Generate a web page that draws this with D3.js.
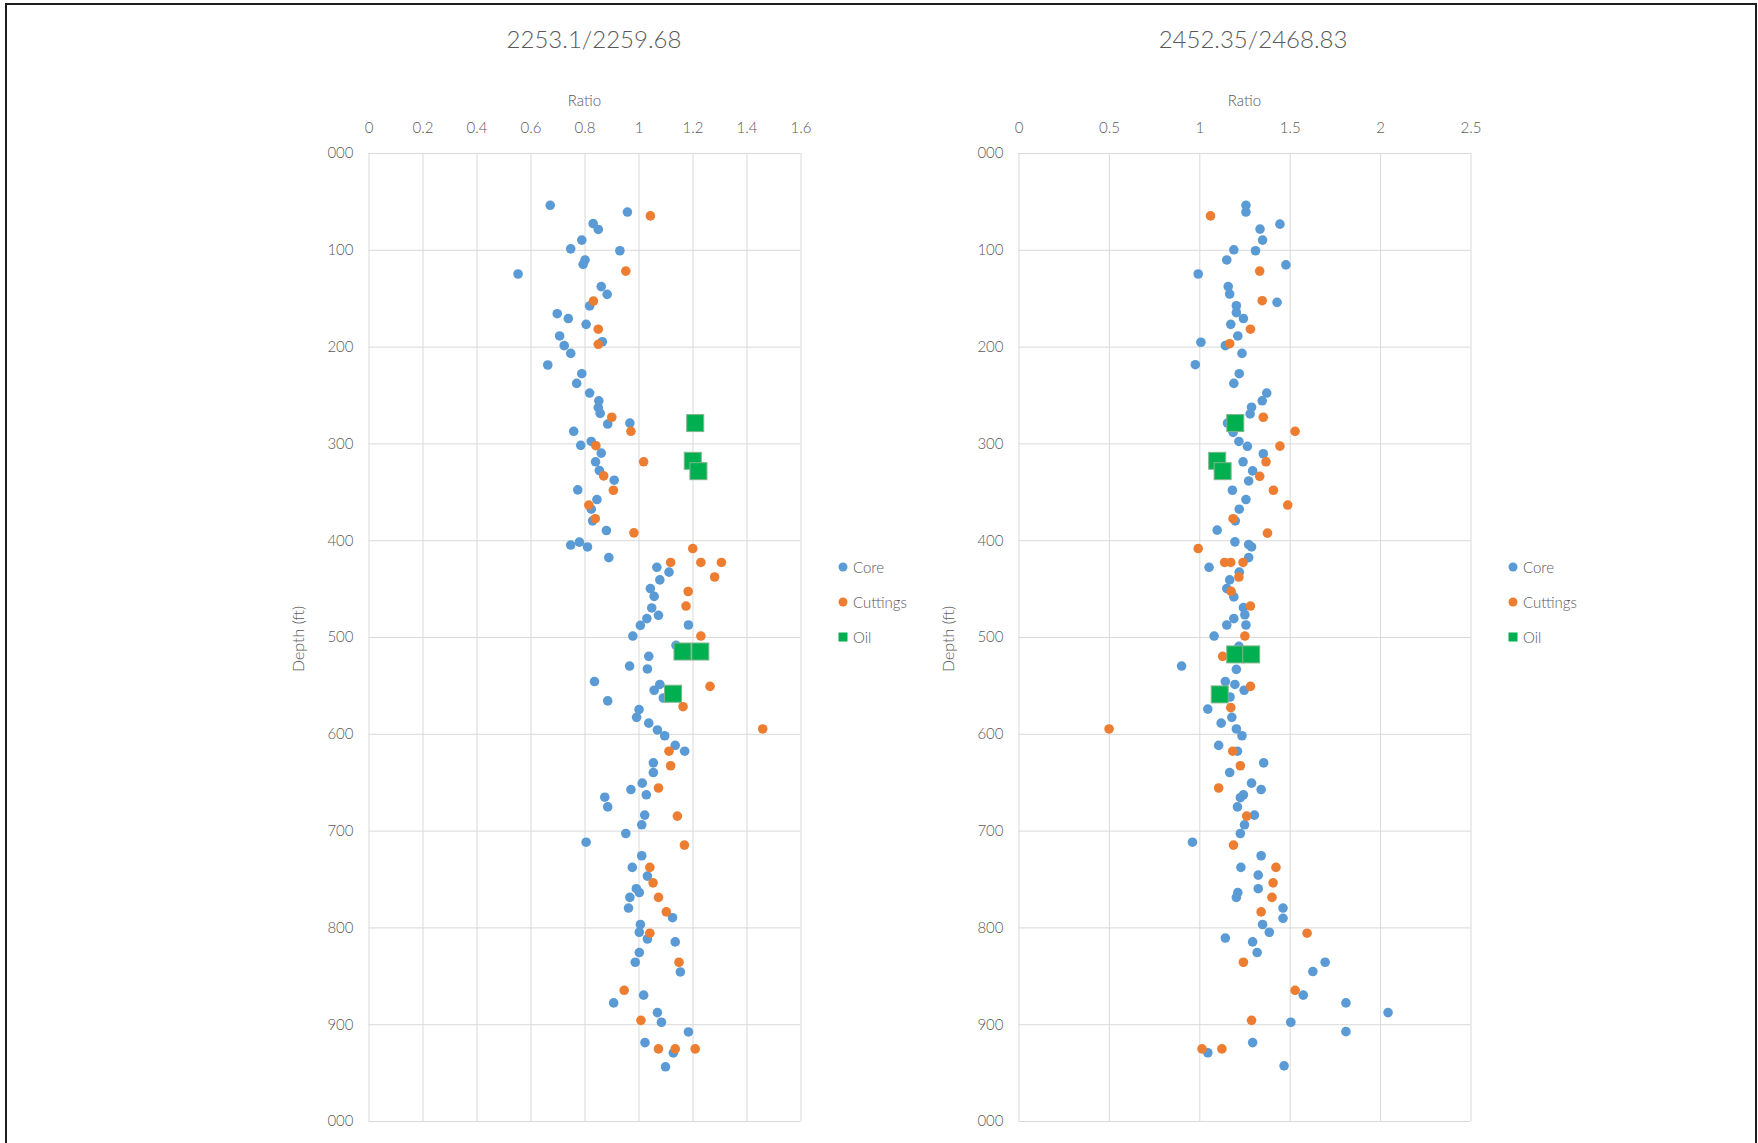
<!DOCTYPE html>
<html>
<head>
<meta charset="utf-8">
<script src="https://cdn.jsdelivr.net/npm/d3@7"></script>
<style>
  html, body { margin: 0; padding: 0; background: #fff; }
  svg { display: block; }
  text { font-family: Lato, "Open Sans", sans-serif; font-weight: 300; fill: #595959; }
</style>
</head>
<body>
<svg id="chart" width="1758" height="1143"></svg>
<script>
// ---- data: [ratio, depth ft] ----
const leftCore = [
  [0.673,54],[0.959,61],[0.832,73],[0.851,79],[0.790,90],[0.749,99],[0.931,101],[0.802,110.5],[0.795,115],[0.554,125],
  [0.862,138],[0.884,146],[0.819,158],[0.699,166],[0.740,171],[0.806,177],[0.708,189],[0.866,195],[0.725,199],[0.749,207],
  [0.664,219],[0.790,228],[0.771,238],[0.819,248],[0.853,256],[0.851,263],[0.858,269],[0.968,279],[0.886,280],[0.760,287.5],
  [0.825,298],[0.786,302],[0.862,310],[0.841,319],[0.855,328],[0.910,338],[0.775,348],[0.846,358],[0.825,368],[0.830,380],
  [0.881,390],[0.749,405],[0.781,402],[0.811,407],[0.890,418],[1.068,428],[1.113,433],[1.079,441],[1.044,450],[1.058,458],
  [1.049,470],[1.074,477.6],[1.031,481],[1.007,488],[1.185,487.6],[0.979,499],[1.139,508.6],[1.038,520],[0.967,530],[1.033,533],
  [0.837,546],[1.079,549],[1.058,555],[1.092,563],[0.886,566],[1.002,575],[0.993,583],[1.038,589],[1.070,596],[1.097,602],
  [1.136,612],[1.171,618],[1.055,630],[1.055,640],[1.014,651],[0.972,657.6],[1.029,663],[0.875,665.5],[0.886,675.5],[1.023,684],
  [1.012,694],[0.953,703],[0.806,712],[1.012,726],[0.977,738],[1.033,747],[0.992,760],[1.003,764],[0.968,769],[0.963,780],
  [1.126,790],[1.007,797],[1.003,805],[1.033,812],[1.136,815],[1.003,826],[0.988,836],[1.155,846],[1.019,870],[0.908,878],
  [1.070,888],[1.085,898],[1.185,908],[1.024,919],[1.129,929.7],[1.100,944]
];
const leftCuttings = [
  [1.044,65],[0.953,122],[0.833,153],[0.851,182],[0.851,197.6],[0.901,273],[0.972,287.5],[0.842,302.4],[1.019,319],[0.871,333.6],
  [0.907,348.4],[0.816,363.7],[0.840,377.8],[0.983,392.4],[1.201,408.6],[1.119,423],[1.231,423],[1.307,423],[1.282,438],[1.184,453],
  [1.176,468],[1.231,499],[1.265,551],[1.165,572],[1.460,595],[1.113,618],[1.119,633],[1.074,656],[1.144,685],[1.170,715],
  [1.042,738],[1.054,754],[1.074,769],[1.103,784],[1.042,806],[1.150,836],[0.947,865],[1.009,896],[1.074,925.5],[1.136,925.5],
  [1.210,925.5]
];
const leftOil = [[1.210,279],[1.201,318],[1.222,328.7],[1.163,515],[1.229,515],[1.128,558.6]];

const rightCore = [
  [1.258,54],[1.258,61],[1.446,73.5],[1.336,78.6],[1.350,90],[1.191,100],[1.311,101],[1.152,110.5],[1.479,115.6],[0.994,125],
  [1.160,138],[1.168,145.7],[1.430,154.3],[1.205,157.8],[1.205,165],[1.244,171],[1.174,177],[1.213,189],[1.009,195.5],[1.144,199],
  [1.236,207],[0.978,218.7],[1.221,228],[1.191,238],[1.373,248],[1.348,256],[1.289,262.6],[1.281,269.6],[1.156,279],[1.187,288.6],
  [1.219,298],[1.266,303],[1.354,310.7],[1.242,319],[1.295,328.4],[1.273,338.8],[1.183,348.4],[1.258,358],[1.221,368],[1.199,380],
  [1.099,389.6],[1.197,401.7],[1.273,404.5],[1.289,407],[1.273,418],[1.054,428],[1.221,433],[1.168,441],[1.152,450],[1.191,458.6],
  [1.244,469.7],[1.252,477],[1.191,481],[1.152,487.6],[1.258,487.6],[1.082,499],[1.219,509.7],[0.902,530],[1.205,533.4],[1.144,546],
  [1.197,549],[1.248,555],[1.170,562],[1.047,574.5],[1.180,583],[1.121,589],[1.205,595],[1.236,602],[1.107,612],[1.211,618],
  [1.356,630],[1.168,640],[1.289,651],[1.342,657.6],[1.244,663],[1.227,666],[1.211,675.5],[1.305,684],[1.250,694],[1.227,703],
  [0.962,712],[1.342,726],[1.230,738],[1.326,746],[1.326,760],[1.213,764],[1.205,769],[1.463,780],[1.463,790.6],[1.350,797],
  [1.387,805],[1.144,811],[1.295,815],[1.320,826],[1.696,836],[1.628,845.6],[1.575,870],[1.811,878],[2.044,888],[1.506,898],
  [1.811,907.7],[1.295,919],[1.047,929.5],[1.469,943]
];
const rightCuttings = [
  [1.062,65],[1.334,122],[1.348,152.6],[1.283,182],[1.168,197],[1.354,273],[1.530,287.5],[1.446,302.8],[1.369,319],[1.334,334],
  [1.410,348.4],[1.489,363.7],[1.187,377.8],[1.377,392.7],[0.994,408.6],[1.140,423],[1.174,423],[1.242,423],[1.219,438],[1.176,452.8],
  [1.283,468],[1.252,499],[1.129,520],[1.283,551],[1.174,573],[0.501,595],[1.185,618],[1.227,633],[1.107,656],[1.262,685],
  [1.189,715],[1.424,738],[1.408,754],[1.402,769],[1.342,784],[1.596,806],[1.244,836],[1.530,865],[1.289,896],[1.015,925.5],
  [1.125,925.5]
];
const rightOil = [[1.199,279],[1.099,318],[1.129,328.7],[1.199,518],[1.287,518],[1.113,559.3]];

const leftRatioTicks = [0, 0.2, 0.4, 0.6, 0.8, 1, 1.2, 1.4, 1.6];
const rightRatioTicks = [0, 0.5, 1, 1.5, 2, 2.5];
const depthTicks = [0, 100, 200, 300, 400, 500, 600, 700, 800, 900, 1000];
const depthTickLabels = ["000", "100", "200", "300", "400", "500", "600", "700", "800", "900", "000"];
const seriesNames = ["Core", "Cuttings", "Oil"];
const titles = ["2253.1/2259.68", "2452.35/2468.83"];

const colors = { Core: "#5B9BD5", Cuttings: "#ED7D31", Oil: "#00B050" };

const svg = d3.select("#chart");

// outer frame
svg.append("rect")
  .attr("x", 6).attr("y", 4).attr("width", 1750).attr("height", 1300)
  .attr("fill", "none").attr("stroke", "#1e1e1e").attr("stroke-width", 2);

function panel(cfg) {
  const { x0, x1, y0, y1, max, ticks, core, cuttings, oil, title, titleX, labelX, legendX } = cfg;
  const x = d3.scaleLinear().domain([0, max]).range([x0, x1]);
  const y = d3.scaleLinear().domain([0, 1000]).range([y0, y1]);
  const g = svg.append("g");

  // vertical gridlines + ratio labels on top
  const xAxis = d3.axisTop(x).tickValues(ticks).tickSize(-(y1 - y0)).tickPadding(20)
    .tickFormat(d => String(d));
  const gx = g.append("g").attr("transform", `translate(0,${y0})`).call(xAxis);
  gx.select(".domain").remove();
  gx.selectAll("line").attr("stroke", "#d9d9d9");
  gx.selectAll("text").style("font-size", "15px").attr("fill", "#595959")
    .style("font-family", "Lato, 'Open Sans', sans-serif").style("font-weight", 300);

  // horizontal gridlines + depth labels on the left
  const yAxis = d3.axisLeft(y).tickValues(depthTicks).tickSize(-(x1 - x0)).tickPadding(15)
    .tickFormat((d, i) => depthTickLabels[i]);
  const gy = g.append("g").attr("transform", `translate(${x0},0)`).call(yAxis);
  gy.select(".domain").remove();
  gy.selectAll("line").attr("stroke", "#d9d9d9");
  gy.selectAll("text").style("font-size", "15px").attr("fill", "#595959")
    .style("font-family", "Lato, 'Open Sans', sans-serif").style("font-weight", 300);

  // axis titles
  g.append("text").attr("x", (x0 + x1) / 2).attr("y", 100)
    .attr("text-anchor", "middle").attr("dominant-baseline", "central")
    .style("font-size", "15px").text("Ratio");
  g.append("text")
    .attr("transform", `translate(${labelX},639) rotate(-90)`)
    .attr("text-anchor", "middle").attr("dominant-baseline", "central")
    .style("font-size", "16px").text("Depth (ft)");

  // chart title
  g.append("text").attr("x", titleX).attr("y", 38)
    .attr("text-anchor", "middle").attr("dominant-baseline", "central")
    .style("font-size", "24px").text(title);

  // markers
  g.append("g").selectAll("circle").data(core).join("circle")
    .attr("cx", d => x(d[0])).attr("cy", d => y(d[1])).attr("r", 4.8)
    .attr("fill", colors.Core);
  g.append("g").selectAll("circle").data(cuttings).join("circle")
    .attr("cx", d => x(d[0])).attr("cy", d => y(d[1])).attr("r", 4.8)
    .attr("fill", colors.Cuttings);
  const s = 17;
  g.append("g").selectAll("rect").data(oil).join("rect")
    .attr("x", d => x(d[0]) - s / 2).attr("y", d => y(d[1]) - s / 2)
    .attr("width", s).attr("height", s)
    .attr("fill", colors.Oil).attr("stroke", "#7fb58e").attr("stroke-width", 1);

  // legend
  const lg = g.append("g");
  seriesNames.forEach((name, i) => {
    const ly = 567 + i * 35;
    if (name === "Oil") {
      lg.append("rect").attr("x", legendX - 4.5).attr("y", ly - 4.5).attr("width", 9).attr("height", 9)
        .attr("fill", colors.Oil);
    } else {
      lg.append("circle").attr("cx", legendX).attr("cy", ly).attr("r", 4.5).attr("fill", colors[name]);
    }
    lg.append("text").attr("x", legendX + 10).attr("y", ly)
      .attr("dominant-baseline", "central").style("font-size", "15px").text(name);
  });
}

panel({ x0: 368.5, x1: 800.5, y0: 153, y1: 1121, max: 1.6, ticks: leftRatioTicks,
        core: leftCore, cuttings: leftCuttings, oil: leftOil, title: titles[0],
        titleX: 594, labelX: 297, legendX: 843 });
panel({ x0: 1018.5, x1: 1470.5, y0: 153, y1: 1121, max: 2.5, ticks: rightRatioTicks,
        core: rightCore, cuttings: rightCuttings, oil: rightOil, title: titles[1],
        titleX: 1253, labelX: 947, legendX: 1513 });
</script>
</body>
</html>
